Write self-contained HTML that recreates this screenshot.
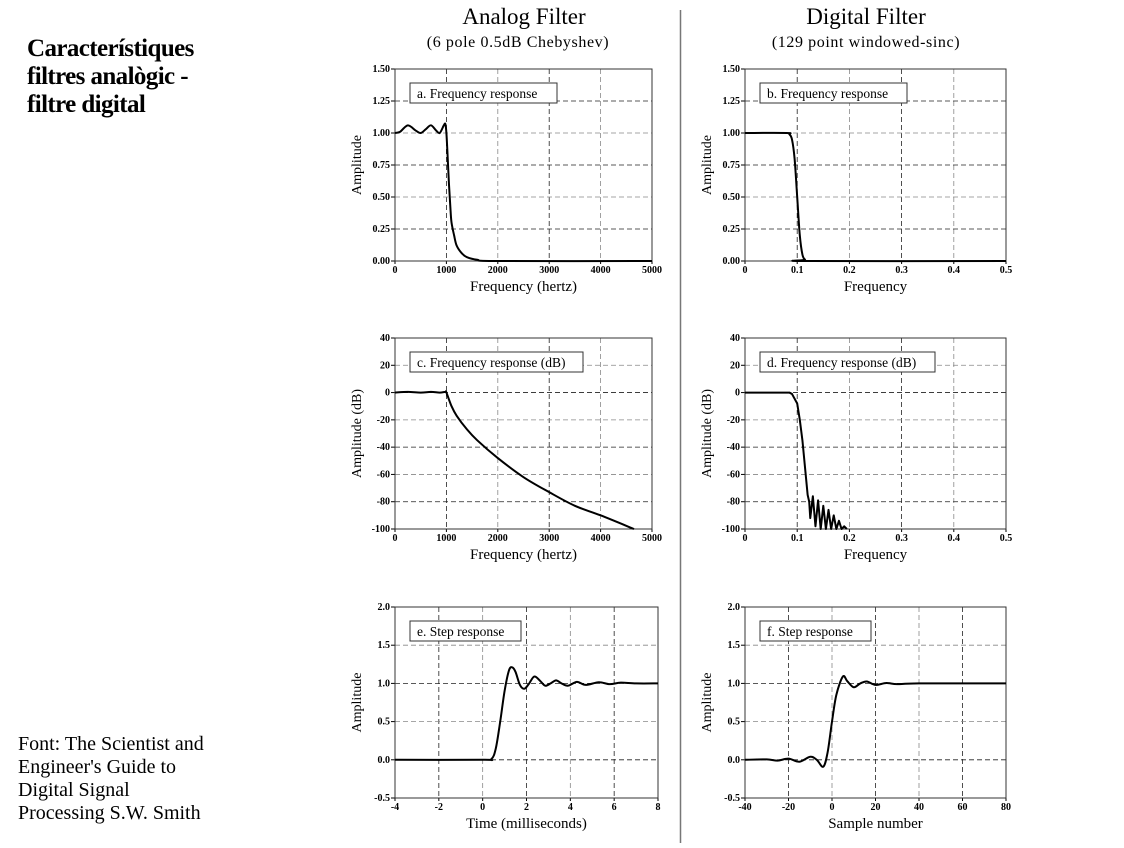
<!DOCTYPE html>
<html><head><meta charset="utf-8"><style>
body{margin:0;background:#fff;width:1124px;height:843px;overflow:hidden;font-family:"Liberation Serif",serif}
svg text{font-family:"Liberation Serif",serif}
</style></head><body>
<svg id="s" width="1124" height="843" xmlns="http://www.w3.org/2000/svg">
<g font-size="25" font-weight="bold" letter-spacing="-0.6">
<text x="27" y="56">Característiques</text>
<text x="27" y="84">filtres analògic -</text>
<text x="27" y="112">filtre digital</text>
</g>
<g font-size="20">
<text x="18" y="750">Font: The Scientist and</text>
<text x="18" y="773">Engineer's Guide to</text>
<text x="18" y="796">Digital Signal</text>
<text x="18" y="819">Processing S.W. Smith</text>
</g>
<text x="524" y="24" font-size="23" text-anchor="middle">Analog Filter</text>
<text x="518" y="47" font-size="16" letter-spacing="0.6" text-anchor="middle">(6 pole 0.5dB Chebyshev)</text>
<text x="866" y="24" font-size="23" text-anchor="middle">Digital Filter</text>
<text x="866" y="47" font-size="16" letter-spacing="0.6" text-anchor="middle">(129 point windowed-sinc)</text>
<line x1="680.5" y1="10" x2="680.5" y2="843" stroke="#777" stroke-width="1.5"/>
</svg>
<script>
// Panel a
const aX=[0,100,250,400,500,600,700,800,870,950,980,1000,1020,1050,1080,1100,1150,1200,1300,1400,1600,2000,5000];
const aY=[1.0,1.01,1.06,1.02,1.0,1.03,1.06,1.02,1.0,1.06,1.07,1.0,0.85,0.6,0.4,0.3,0.2,0.12,0.06,0.03,0.01,0,0];
// Panel b
const bX=[0,0.08,0.085,0.09,0.095,0.1,0.105,0.11,0.115,0.12,0.5];
const bY=[1,1,0.99,0.95,0.8,0.5,0.2,0.05,0.01,0,0];
// Panel c
const cX=[0,250,500,700,870,980,1000,1100,1200,1400,1600,2000,2500,3000,3500,4000,4650];
const cY=[0,0.5,0,0.5,0,0.5,0,-10,-17,-27,-35,-48,-62,-73,-83,-90,-100];
// Panel d
const dX=[0,0.085,0.09,0.1,0.105,0.11,0.115,0.12,0.123,0.125,0.13,0.135,0.14,0.145,0.15,0.155,0.16,0.165,0.17,0.175,0.18,0.185,0.19,0.195];
const dY=[0,0,-1,-8,-20,-35,-55,-75,-80,-92,-76,-98,-79,-100,-83,-100,-86,-100,-90,-100,-94,-100,-98,-100];
// Panel e
const eX=[-4,0,0.4,0.6,0.8,1.0,1.2,1.35,1.5,1.7,1.9,2.1,2.35,2.6,2.85,3.1,3.35,3.6,3.9,4.3,4.7,5.3,5.8,6.3,7,8];
const eY=[0,0,0.01,0.15,0.5,0.9,1.17,1.21,1.15,0.98,0.93,0.99,1.09,1.04,0.97,1.0,1.04,1.0,0.97,1.02,0.98,1.015,0.99,1.01,1.0,1];
// Panel f
const fX=[-40,-30,-25,-20,-15,-10,-7,-4,-2,0,2,5,7,10,13,16,20,25,30,40,80];
const fY=[0,0.005,-0.01,0.015,-0.025,0.04,0,-0.09,0.1,0.5,0.85,1.09,1.03,0.95,1.0,1.025,0.98,1.005,0.99,1,1];
const aTicks=["0","1000","2000","3000","4000","5000"];
const bTicks=["0","0.1","0.2","0.3","0.4","0.5"];
const ampTicks=["0.00","0.25","0.50","0.75","1.00","1.25","1.50"];
const dbTicks=["-100","-80","-60","-40","-20","0","20","40"];
const eTicks=["-4","-2","0","2","4","6","8"];
const fTicks=["-40","-20","0","20","40","60","80"];
const stepTicks=["-0.5","0.0","0.5","1.0","1.5","2.0"];

const NS="http://www.w3.org/2000/svg";
const svg=document.getElementById('s');
function mk(tag,attrs,parent){const e=document.createElementNS(NS,tag);for(const k in attrs)e.setAttribute(k,attrs[k]);(parent||svg).appendChild(e);return e;}
function smooth(pts){let d="M"+pts[0][0]+","+pts[0][1];for(let i=0;i<pts.length-1;i++){const p0=pts[Math.max(0,i-1)],p1=pts[i],p2=pts[i+1],p3=pts[Math.min(pts.length-1,i+2)];const c1x=p1[0]+(p2[0]-p0[0])/6,c1y=p1[1]+(p2[1]-p0[1])/6,c2x=p2[0]-(p3[0]-p1[0])/6,c2y=p2[1]-(p3[1]-p1[1])/6;d+=" C"+c1x+","+c1y+" "+c2x+","+c2y+" "+p2[0]+","+p2[1];}return d;}
function panel(o){
  const g=mk('g',{});
  
  
  const sx=v=>o.x0+(v-o.xmin)/(o.xmax-o.xmin)*(o.x1-o.x0);
  const sy=v=>o.y1-(v-o.ymin)/(o.ymax-o.ymin)*(o.y1-o.y0);
  o.xt.forEach((t,i)=>{const v=parseFloat(t),x=sx(v);
    if(i>0&&i<o.xt.length-1){const l=mk('line',{x1:x,y1:o.y0,x2:x,y2:o.y1,stroke:i%2?'#222':'#888','stroke-width':0.8,'stroke-dasharray':'5,3'},g);}
    mk('line',{x1:x,y1:o.y1,x2:x,y2:o.y1+3,stroke:'#000'},g);
    const tx=mk('text',{x:x,y:o.y1+12,'font-size':10,'font-weight':'bold','text-anchor':'middle'},g);tx.textContent=t;
    });
  o.yt.forEach((t,i)=>{const v=parseFloat(t),y=sy(v);
    if(i>0&&i<o.yt.length-1){const l=mk('line',{x1:o.x0,y1:y,x2:o.x1,y2:y,stroke:i%2?'#222':'#888','stroke-width':0.8,'stroke-dasharray':'5,3'},g);}
    mk('line',{x1:o.x0-4,y1:y,x2:o.x0,y2:y,stroke:'#000'},g);
    const tx=mk('text',{x:o.x0-5,y:y+3,'font-size':10,'font-weight':'bold','text-anchor':'end'},g);tx.textContent=t;
    });
  const fr=mk('rect',{x:o.x0,y:o.y0,width:o.x1-o.x0,height:o.y1-o.y0,fill:'none',stroke:'#333','stroke-width':1},g);
  
  const pts=o.X.map((v,i)=>[sx(v),sy(o.Y[i])]);
  const p=mk('path',{d:o.lin?("M"+pts.map(q=>q.join(",")).join(" L")):smooth(pts),fill:'none',stroke:'#000','stroke-width':2,'stroke-linejoin':'round'},g);
  
  const lb=mk('rect',{x:o.x0+15,y:o.y0+14,width:o.bw,height:20,fill:'#fff',stroke:'#333'},g);
  
  const lt=mk('text',{x:o.x0+22,y:o.y0+29,'font-size':13.5,'xml:space':'preserve'},g);lt.textContent=o.label;
  
  const xt=mk('text',{x:(o.x0+o.x1)/2,y:o.y1+30,'font-size':15,'text-anchor':'middle'},g);xt.textContent=o.xl;
  
  const cy=(o.y0+o.y1)/2,cx=o.x0-34;
  const yt=mk('text',{x:cx,y:cy,'font-size':14,'text-anchor':'middle',transform:`rotate(-90 ${cx} ${cy})`},g);yt.textContent=o.yl;
  
}
panel({name:'panel-a',x0:395,x1:652,y0:69,y1:261,xmin:0,xmax:5000,ymin:0,ymax:1.5,xt:aTicks,yt:ampTicks,X:aX,Y:aY,label:'a.  Frequency response',bw:147,xl:'Frequency (hertz)',yl:'Amplitude'});
panel({name:'panel-b',x0:745,x1:1006,y0:69,y1:261,xmin:0,xmax:0.5,ymin:0,ymax:1.5,xt:bTicks,yt:ampTicks,X:bX,Y:bY,label:'b.  Frequency response',bw:147,xl:'Frequency',yl:'Amplitude'});
panel({name:'panel-c',x0:395,x1:652,y0:338,y1:529,xmin:0,xmax:5000,ymin:-100,ymax:40,xt:aTicks,yt:dbTicks,X:cX,Y:cY,label:'c.  Frequency response (dB)',bw:173,xl:'Frequency (hertz)',yl:'Amplitude (dB)'});
panel({name:'panel-d',x0:745,x1:1006,y0:338,y1:529,xmin:0,xmax:0.5,ymin:-100,ymax:40,xt:bTicks,yt:dbTicks,X:dX,Y:dY,lin:true,label:'d.  Frequency response (dB)',bw:175,xl:'Frequency',yl:'Amplitude (dB)'});
panel({name:'panel-e',x0:395,x1:658,y0:607,y1:798,xmin:-4,xmax:8,ymin:-0.5,ymax:2,xt:eTicks,yt:stepTicks,X:eX,Y:eY,label:'e.  Step response',bw:111,xl:'Time (milliseconds)',yl:'Amplitude'});
panel({name:'panel-f',x0:745,x1:1006,y0:607,y1:798,xmin:-40,xmax:80,ymin:-0.5,ymax:2,xt:fTicks,yt:stepTicks,X:fX,Y:fY,label:'f.  Step response',bw:111,xl:'Sample number',yl:'Amplitude'});
</script>
</body></html>
